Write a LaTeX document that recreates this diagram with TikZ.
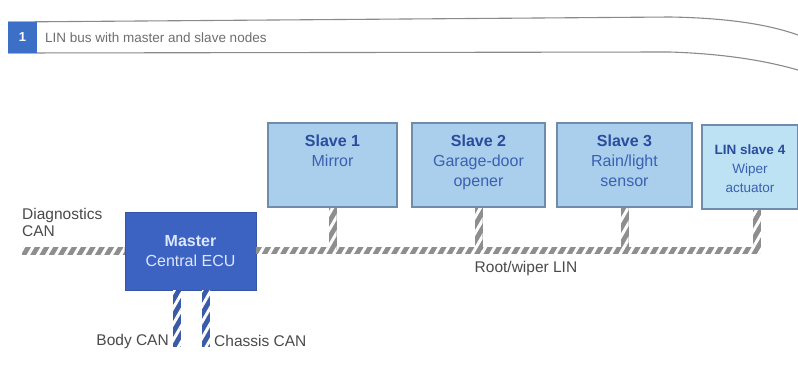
\documentclass[tikz,border=0pt]{standalone}
\usepackage{fontspec}
\setmainfont{Liberation Sans}
\usetikzlibrary{patterns.meta,calc}
\definecolor{slavefill}{HTML}{A9CFEC}
\definecolor{slavefillb}{HTML}{BCE2F3}
\definecolor{slaveedge}{HTML}{6F8DAA}
\definecolor{masterfill}{HTML}{3D63C2}
\definecolor{mastertext}{HTML}{DCE6FF}
\definecolor{slavehead}{HTML}{2B4C9E}
\definecolor{slavebody}{HTML}{3B60B2}
\definecolor{busgray}{HTML}{8E8E8E}
\definecolor{busblue}{HTML}{3A5CA8}
\definecolor{hdrblue}{HTML}{3C6FC6}
\definecolor{hdrline}{HTML}{8A8A8A}
\definecolor{lbltext}{HTML}{4A4A4A}
\begin{document}
\begin{tikzpicture}[x=1pt,y=-1pt,
  slavebox/.style={draw=slaveedge, line width=1.3pt, fill=slavefill, minimum height=84pt, inner sep=0pt},
  slavetext/.style={anchor=north, align=center, text=slavebody, font=\fontsize{16}{20}\selectfont},
  slavetextsmall/.style={anchor=north, align=center, text=slavebody, font=\fontsize{13.5}{19}\selectfont},
  masterbox/.style={fill=masterfill, draw=masterfill!85!black, line width=0.6pt, minimum width=131pt, minimum height=78pt, align=center, text=mastertext, font=\fontsize{16}{20}\selectfont, inner sep=0pt},
  graybus/.style={preaction={fill=busgray}, pattern={Lines[angle=60,distance=8pt,line width=3pt]}, pattern color=white},
  bluebus/.style={preaction={fill=busblue}, pattern={Lines[angle=60,distance=8pt,line width=3pt]}, pattern color=white},
  lbl/.style={text=lbltext, font=\fontsize{15.5}{17}\selectfont, inner sep=0pt, align=left},
  hdr/.style={draw=hdrline, line width=1.1pt}
]
\useasboundingbox (0,0) rectangle (798,368);
\fill[white] (0,0) rectangle (798,368);

% header
\draw[hdr] (8,22) -- (670,17) .. controls (730,18) and (770,25) .. (798,35);
\draw[hdr] (8,53) -- (670,52) .. controls (730,54) and (770,62) .. (798,70);
\node[fill=hdrblue, minimum width=29pt, minimum height=31pt, inner sep=0pt, text=white, font=\fontsize{13}{15}\selectfont\bfseries] (num) at (22.5,37.5) {1};
\node[anchor=west, text=lbltext!80, font=\fontsize{13.5}{15}\selectfont, inner sep=0pt] (title) at (45,38) {LIN bus with master and slave nodes};

% master
\node[masterbox] (master) at (190.5,251) {\textbf{Master}\\Central ECU};

% slaves
\node[slavebox, minimum width=129pt] (s1) at (332.5,165) {};
\node[slavebox, minimum width=133pt] (s2) at (478.5,165) {};
\node[slavebox, minimum width=135pt] (s3) at (624.5,165) {};
\node[slavebox, minimum width=96pt, fill=slavefillb, minimum height=84pt] (s4) at (750,167) {};
\node[slavetext] (t1) at ($(s1.north)+(0,9)$) {\textcolor{slavehead}{\textbf{Slave 1}}\\Mirror};
\node[slavetext] (t2) at ($(s2.north)+(0,9)$) {\textcolor{slavehead}{\textbf{Slave 2}}\\Garage-door\\opener};
\node[slavetext] (t3) at ($(s3.north)+(0,9)$) {\textcolor{slavehead}{\textbf{Slave 3}}\\Rain/light\\sensor};
\node[slavetextsmall] (t4) at ($(s4.north)+(0,17)$) {\textcolor{slavehead}{\textbf{LIN slave 4}}\\Wiper\\actuator};

% buses
\coordinate (dcan) at (22,250);
\coordinate (lend) at (761,250);
\path[graybus] ($(dcan)+(0,-3.5)$) rectangle ($(master.west)+(0,3.5)$);
\path[graybus] ($(master.east)+(0,-4)$) rectangle ($(lend)+(0,4)$);
\path[graybus] ($(s1.south)+(-4,0.7)$) rectangle ($(s1.south|-lend)+(4,0)$);
\path[graybus] ($(s2.south)+(-4,0.7)$) rectangle ($(s2.south|-lend)+(4,0)$);
\path[graybus] ($(s3.south)+(-4,0.7)$) rectangle ($(s3.south|-lend)+(4,0)$);
\path[graybus] ($(s4.south-|lend)+(-8,0.7)$) rectangle ($(lend)+(0,4)$);

\coordinate (body) at (177,347);
\coordinate (chassis) at (206,347);
\path[bluebus] ($(master.south-|body)+(-4,0.3)$) rectangle ($(body)+(4,0)$);
\path[bluebus] ($(master.south-|chassis)+(-4,0.3)$) rectangle ($(chassis)+(4,0)$);

% labels
\node[lbl, anchor=north west] (diag) at (22,208) {Diagnostics\\CAN};
\node[lbl, anchor=east] (bodylbl) at ($(body)+(-8,-6)$) {Body CAN};
\node[lbl, anchor=west] (chaslbl) at ($(chassis)+(8,-6)$) {Chassis CAN};
\node[lbl, anchor=north] (linlbl) at (526,261) {Root/wiper LIN};
\end{tikzpicture}
\end{document}
